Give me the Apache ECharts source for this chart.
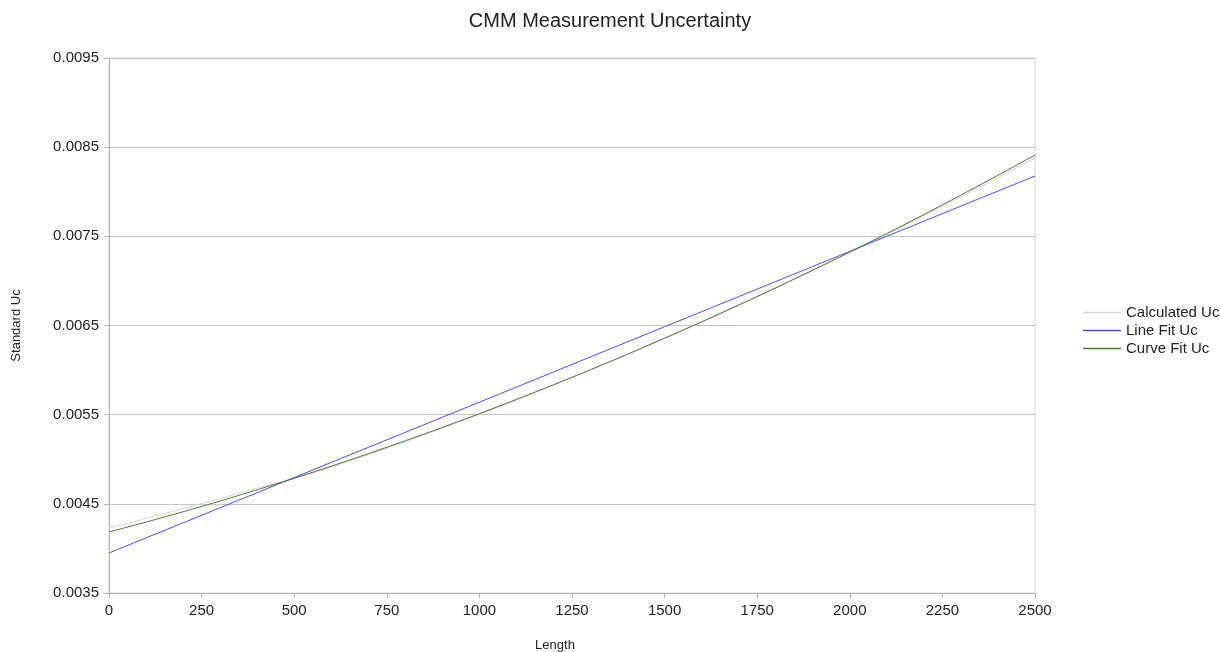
<!DOCTYPE html>
<html>
<head>
<meta charset="utf-8">
<title>CMM Measurement Uncertainty</title>
<script src="https://cdn.jsdelivr.net/npm/echarts@6/dist/echarts.min.js"></script>
<style>
  html, body { margin: 0; padding: 0; background: #fff; }
  #main { width: 1220px; height: 652px; }
</style>
</head>
<body>
<div id="main"></div>
<script>
// lengths sampled every 100
const lengths = [0, 100, 200, 300, 400, 500, 600, 700, 800, 900, 1000, 1100, 1200,
  1300, 1400, 1500, 1600, 1700, 1800, 1900, 2000, 2100, 2200, 2300, 2400, 2500];

const calculatedUc = [0.004229, 0.004336, 0.004448, 0.004560, 0.004675, 0.004780,
  0.004912, 0.005050, 0.005196, 0.005347, 0.005503, 0.005665, 0.005830, 0.006001,
  0.006176, 0.006356, 0.006540, 0.006728, 0.006920, 0.007117, 0.007318, 0.007522,
  0.007731, 0.007944, 0.008160, 0.008380];

const lineFitUc = [0.003949, 0.004118, 0.004287, 0.004456, 0.004625, 0.004795,
  0.004964, 0.005133, 0.005302, 0.005471, 0.005640, 0.005809, 0.005978, 0.006148,
  0.006317, 0.006486, 0.006655, 0.006824, 0.006993, 0.007162, 0.007331, 0.007501,
  0.007670, 0.007839, 0.008008, 0.008177];

const curveFitUc = [0.004184, 0.004295, 0.004411, 0.004531, 0.004657, 0.004787,
  0.004922, 0.005062, 0.005207, 0.005357, 0.005511, 0.005671, 0.005835, 0.006004,
  0.006178, 0.006357, 0.006541, 0.006729, 0.006922, 0.007121, 0.007324, 0.007531,
  0.007744, 0.007962, 0.008184, 0.008412];

const pairs = (ys) => lengths.map((x, i) => [x, ys[i]]);

const font = "'Liberation Sans', Arial, sans-serif";

const options = {
  animation: false,
  textStyle: { fontFamily: font },
  title: {
    text: "CMM Measurement Uncertainty",
    left: "center",
    top: 6,
    textStyle: { fontFamily: font, fontSize: 20, fontWeight: "normal", color: "#222" },
  },
  legend: {
    orient: "vertical",
    left: 1078,
    top: 300,
    icon: "rect", // plain line, no dot
    itemWidth: 38,
    itemHeight: 1.5,
    itemGap: 3,
    textStyle: { fontFamily: font, fontSize: 15, color: "#222" },
    data: ["Calculated Uc", "Line Fit Uc", "Curve Fit Uc"],
  },
  grid: {
    left: 109,
    right: 185,
    top: 58,
    bottom: 59,
    outerBoundsMode: "none",
    show: true,
    borderColor: "#d6d6d6",
    borderWidth: 1,
  },
  xAxis: {
    type: "value",
    min: 0,
    max: 2500,
    interval: 250,
    name: "Length",
    nameLocation: "middle",
    nameGap: 46,
    nameTextStyle: { fontFamily: font, fontSize: 13, color: "#222", padding: [0, 34, 0, 0] },
    axisLine: { show: true, lineStyle: { color: "#b3b3b3" } },
    axisTick: { show: true, length: 5, lineStyle: { color: "#b3b3b3" } },
    axisLabel: { fontSize: 15, color: "#222", margin: 10, formatter: (v) => String(v) },
    splitLine: { show: false },
  },
  yAxis: {
    type: "value",
    min: 0.0035,
    max: 0.0095,
    interval: 0.001,
    name: "Standard Uc",
    nameLocation: "middle",
    nameGap: 86,
    nameTextStyle: { fontFamily: font, fontSize: 13, color: "#222" },
    axisLine: { show: true, lineStyle: { color: "#b3b3b3" } },
    axisTick: { show: true, length: 5, lineStyle: { color: "#b3b3b3" } },
    axisLabel: {
      fontSize: 15,
      color: "#222",
      margin: 10,
      formatter: (v) => v.toFixed(4),
    },
    splitLine: { show: true, lineStyle: { color: "#c4c4c4", width: 1 } },
  },
  series: [
    {
      name: "Calculated Uc",
      type: "line",
      data: pairs(calculatedUc),
      symbol: "none",
      lineStyle: { color: "#d8d8d8", width: 1.2 },
      itemStyle: { color: "#d8d8d8" },
    },
    {
      name: "Line Fit Uc",
      type: "line",
      data: pairs(lineFitUc),
      symbol: "none",
      lineStyle: { color: "#4a4aff", width: 1 },
      itemStyle: { color: "#4a4aff" },
    },
    {
      name: "Curve Fit Uc",
      type: "line",
      data: pairs(curveFitUc),
      symbol: "none",
      lineStyle: { color: "#4a7d3a", width: 1 },
      itemStyle: { color: "#4a7d3a" },
    },
  ],
};

const chart = echarts.init(document.getElementById("main"));
chart.setOption(options);
</script>
</body>
</html>
